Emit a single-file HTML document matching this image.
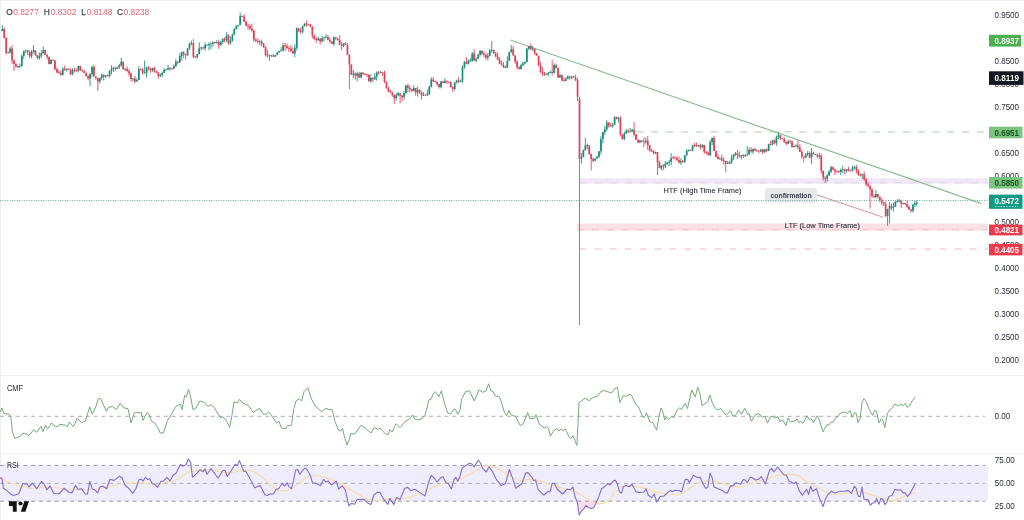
<!DOCTYPE html>
<html><head><meta charset="utf-8"><title>chart</title>
<style>html,body{margin:0;padding:0;background:#fff;width:1024px;height:520px;overflow:hidden;font-family:"Liberation Sans",sans-serif}</style>
</head><body>
<svg width="1024" height="520" viewBox="0 0 1024 520" style="position:absolute;left:0;top:0;display:block;will-change:transform" font-family="Liberation Sans, sans-serif">
<rect x="0" y="0" width="1024" height="520" fill="#ffffff"/>
<rect x="0" y="0" width="1024" height="1" fill="#eceef1"/>
<rect x="0" y="0" width="1" height="520" fill="#eceef1"/>
<rect x="0" y="375" width="1024" height="1" fill="#efeff2"/>
<rect x="0" y="453.3" width="1024" height="1" fill="#efeff2"/>
<rect x="579.5" y="178.2" width="408.5" height="5.6" fill="#f1e7f6"/>
<line x1="580" y1="182.7" x2="988" y2="182.7" stroke="#e0d4e9" stroke-width="1" stroke-dasharray="7 8"/>
<rect x="577" y="223.5" width="411" height="7.2" fill="#fbe1e4"/>
<line x1="577" y1="229.8" x2="988" y2="229.8" stroke="#f4bec4" stroke-width="1" stroke-dasharray="7 8"/>
<line x1="636.5" y1="131.9" x2="988" y2="131.9" stroke="#adcbae" stroke-width="1" stroke-dasharray="7 7.8"/>
<line x1="579.5" y1="249" x2="988" y2="249" stroke="#f4b9bf" stroke-width="1" stroke-dasharray="7 8"/>
<line x1="510.5" y1="40" x2="981.5" y2="203.6" stroke="#8cbd90" stroke-width="1.15"/>
<path d="M4.25 27.2V38.4M6.20 37.2V54.8M12.05 45.3V63.9M14.00 59.7V71.0M15.95 62.9V67.9M27.65 49.4V55.1M29.60 50.5V58.2M35.45 50.2V56.0M37.40 54.9V59.6M45.20 49.4V55.2M47.15 54.1V59.4M49.10 56.6V64.4M53.00 59.4V61.1M54.95 60.3V70.3M56.90 67.4V72.9M58.85 69.9V73.9M60.80 70.6V75.8M64.70 65.6V70.7M68.60 68.6V69.9M70.55 68.3V75.2M74.45 67.7V72.6M76.40 68.7V71.7M80.30 65.6V70.9M82.25 69.2V71.8M84.20 69.7V73.0M86.15 72.4V76.6M88.10 75.5V80.4M93.95 64.9V76.5M95.90 76.3V79.7M97.85 78.0V91.0M103.70 74.4V80.5M107.60 74.5V76.6M115.40 66.7V70.8M123.20 61.4V69.9M127.10 66.3V72.3M129.05 69.2V76.4M131.00 72.2V81.8M134.90 75.6V83.3M140.75 68.3V70.7M142.70 67.9V74.9M148.55 65.9V70.5M150.50 67.8V72.8M154.40 66.6V72.7M156.35 70.5V73.3M158.30 71.9V78.6M170.00 67.2V71.1M171.95 68.0V69.9M177.80 60.7V64.4M183.65 51.0V58.2M185.60 53.8V59.5M193.40 39.2V58.4M195.35 55.8V58.2M203.15 46.8V49.5M214.85 42.0V44.0M218.75 39.7V48.8M224.60 37.1V42.4M228.50 33.9V44.8M242.15 15.8V17.1M244.10 14.2V22.3M246.05 20.7V26.1M248.00 23.7V30.0M249.95 24.4V29.9M251.90 23.5V32.4M253.85 29.7V42.0M255.80 38.4V41.9M257.75 38.2V43.3M261.65 39.6V46.1M263.60 42.6V47.8M265.55 46.1V56.6M267.50 49.8V57.8M271.40 54.8V57.4M273.35 54.2V56.7M285.05 42.8V51.1M287.00 43.4V48.7M288.95 45.9V52.2M290.90 44.9V52.2M292.85 47.1V53.7M298.70 27.9V32.0M300.65 27.9V33.9M306.50 20.5V26.8M308.45 23.6V25.4M310.40 23.6V27.1M312.35 26.0V38.3M314.30 35.0V40.3M316.25 37.4V43.0M320.15 38.4V44.7M327.95 34.9V40.5M329.90 37.3V43.2M331.85 41.2V44.1M335.75 37.1V39.9M337.70 38.2V40.8M339.65 35.3V45.1M341.60 41.8V49.9M345.50 42.1V45.1M347.45 42.9V55.1M349.40 54.0V89.0M351.35 64.4V74.9M355.25 72.5V79.8M359.15 71.8V78.4M363.05 72.0V75.2M365.00 73.2V74.9M366.95 73.7V77.0M368.90 74.0V82.1M372.80 77.2V82.2M378.65 70.9V74.8M382.55 72.0V75.9M384.50 70.7V83.0M386.45 81.4V88.8M388.40 86.5V92.3M390.35 89.4V92.8M392.30 91.8V96.8M394.25 94.2V104.0M400.10 93.1V103.5M402.05 94.9V102.1M407.90 83.7V92.3M409.85 85.6V92.4M411.80 89.2V92.1M415.70 87.9V95.7M419.60 89.0V93.9M421.55 90.7V99.7M425.45 94.2V95.7M433.25 77.0V82.0M435.20 80.4V82.4M437.15 81.2V86.2M439.10 83.5V88.6M443.00 80.7V83.2M446.90 80.2V84.0M448.85 81.6V83.1M450.80 80.9V87.6M452.75 86.2V92.1M458.60 77.2V83.4M466.40 57.0V64.3M474.20 49.3V60.7M482.00 50.4V55.0M483.95 51.5V57.6M485.90 53.1V59.7M493.70 49.4V54.0M495.65 52.0V57.2M497.60 52.4V60.2M499.55 56.8V64.0M501.50 60.3V65.5M503.45 61.7V67.5M513.20 46.2V55.6M515.15 55.0V63.9M517.10 59.9V69.4M519.05 66.1V69.6M530.75 43.6V50.3M534.65 48.3V54.7M536.60 52.6V55.9M538.55 55.8V66.3M540.50 61.7V73.3M542.45 67.0V76.2M544.40 72.3V75.9M552.20 59.7V75.4M556.10 63.6V68.4M558.05 67.3V77.9M561.95 74.5V81.4M563.90 77.6V81.8M569.75 75.8V79.7M573.65 75.9V78.0M575.60 74.6V81.2M577.55 78.2V101.1M579.50 96.7V325.0M589.25 145.4V154.5M591.20 153.4V170.5M593.15 157.6V162.0M608.75 122.2V127.7M610.70 122.6V127.0M616.55 116.6V119.5M620.45 116.2V136.5M622.40 133.9V139.7M628.25 129.1V133.2M634.10 122.0V136.3M636.05 134.0V139.8M638.00 139.2V142.9M641.90 140.4V142.5M643.85 137.4V147.2M647.75 136.0V150.0M649.70 144.7V151.7M651.65 148.9V152.1M653.60 150.1V154.4M657.50 152.1V175.0M659.45 160.6V168.2M663.35 163.9V170.2M673.10 156.1V158.8M675.05 156.1V159.4M677.00 156.2V161.4M678.95 156.7V163.6M682.85 159.9V163.1M690.65 149.6V150.7M694.55 142.9V147.3M696.50 142.6V147.1M700.40 143.8V149.5M704.30 144.9V153.8M706.25 150.7V154.5M708.20 151.6V155.2M714.05 135.7V151.1M716.00 150.5V157.6M717.95 154.1V159.3M721.85 154.8V161.6M723.80 157.3V164.9M725.75 161.0V172.5M737.45 150.2V159.1M739.40 151.4V157.9M743.30 154.0V157.8M751.10 147.2V152.7M755.00 147.8V151.1M756.95 149.4V151.7M758.90 150.5V153.1M762.80 148.9V154.1M766.70 148.2V152.2M770.60 140.8V145.6M774.50 139.5V144.4M780.35 134.7V140.2M782.30 138.0V139.1M784.25 137.5V143.1M786.20 141.3V145.3M790.10 139.9V143.7M792.05 140.5V147.4M797.90 140.3V149.7M799.85 144.1V152.1M801.80 149.9V158.7M803.75 156.3V162.2M809.60 151.4V158.5M813.50 151.7V154.7M815.45 153.7V155.2M817.40 153.5V158.2M821.30 153.7V173.9M823.25 170.7V180.5M825.20 176.3V183.0M833.00 166.4V170.2M834.95 168.5V175.0M836.90 170.4V172.2M838.85 170.4V172.6M844.70 168.4V174.2M848.60 166.7V171.6M850.55 169.8V171.4M856.40 165.0V173.4M858.35 169.2V175.9M860.30 173.1V176.6M864.20 171.5V181.0M866.15 178.0V186.1M868.10 182.0V187.6M870.05 185.4V208.6M872.00 188.4V197.8M873.95 194.5V198.4M877.85 193.7V198.6M879.80 196.4V202.2M881.75 198.1V205.3M883.70 201.6V206.2M885.65 201.3V216.9M891.50 203.3V210.3M901.25 200.5V208.1M905.15 202.8V204.9M907.10 200.4V208.1M909.05 205.4V210.1M911.00 209.1V212.9" stroke="#e03e56" stroke-width="0.95" fill="none" opacity="0.9"/>
<path d="M2.30 25.0V31.3M8.15 51.5V53.5M10.10 46.9V53.5M17.90 65.5V68.4M19.85 63.5V68.1M21.80 54.4V66.6M23.75 50.5V58.8M25.70 49.7V53.1M31.55 50.0V58.3M33.50 45.1V53.6M39.35 52.5V59.8M41.30 50.2V58.1M43.25 46.6V53.9M51.05 59.6V64.3M62.75 67.2V75.7M66.65 68.7V71.4M72.50 68.2V75.2M78.35 65.6V72.4M90.05 73.2V86.0M92.00 65.5V76.7M99.80 77.6V83.6M101.75 73.3V79.9M105.65 75.1V78.1M109.55 70.5V77.7M111.50 65.2V74.5M113.45 66.7V72.1M117.35 66.8V69.1M119.30 63.8V69.0M121.25 57.6V66.7M125.15 68.5V70.8M132.95 78.3V81.4M136.85 78.1V81.9M138.80 66.5V80.1M144.65 60.6V73.5M146.60 67.0V77.8M152.45 67.6V71.7M160.25 73.4V77.3M162.20 71.9V77.3M164.15 67.9V73.2M166.10 69.2V70.6M168.05 64.9V70.1M173.90 64.5V69.0M175.85 58.9V67.3M179.75 53.2V62.8M181.70 51.5V60.6M187.55 48.1V56.0M189.50 42.6V49.9M191.45 40.6V45.3M197.30 53.8V58.7M199.25 42.4V54.6M201.20 46.5V50.4M205.10 42.3V50.7M207.05 44.4V45.7M209.00 42.4V50.3M210.95 42.2V49.2M212.90 41.2V46.8M216.80 40.2V43.6M220.70 40.8V45.9M222.65 38.3V43.9M226.55 32.2V42.1M230.45 36.4V44.5M232.40 33.6V41.9M234.35 28.2V35.3M236.30 25.4V29.7M238.25 24.8V27.4M240.20 12.5V25.2M259.70 40.2V45.4M269.45 54.6V60.6M275.30 54.9V56.7M277.25 52.2V55.2M279.20 50.9V52.9M281.15 47.1V51.7M283.10 43.1V51.6M294.80 44.4V57.1M296.75 27.2V50.4M302.60 25.4V33.7M304.55 23.3V26.3M318.20 36.6V41.0M322.10 36.0V42.3M324.05 37.1V41.2M326.00 34.1V38.2M333.80 36.4V46.0M343.55 43.0V47.3M353.30 69.8V78.0M357.20 71.6V81.3M361.10 72.1V78.2M370.85 74.2V83.4M374.75 73.4V80.2M376.70 71.3V80.6M380.60 70.9V73.5M396.20 92.9V100.6M398.15 91.7V96.4M404.00 91.3V99.8M405.95 85.3V94.4M413.75 85.4V91.5M417.65 86.7V96.5M423.50 92.2V96.0M427.40 89.7V96.2M429.35 85.7V95.0M431.30 77.3V87.3M441.05 81.3V88.4M444.95 78.2V83.1M454.70 82.3V90.7M456.65 79.8V83.6M460.55 79.6V82.1M462.50 65.3V83.2M464.45 60.8V68.8M468.35 59.3V64.6M470.30 58.1V62.1M472.25 51.9V61.6M476.15 57.8V62.3M478.10 53.6V58.8M480.05 50.3V56.5M487.85 52.8V60.7M489.80 48.9V56.2M491.75 41.0V52.6M505.40 65.6V68.3M507.35 56.3V68.1M509.30 51.8V61.0M511.25 45.0V52.5M521.00 63.9V69.5M522.95 61.6V65.9M524.90 61.5V64.7M526.85 47.9V62.4M528.80 45.9V50.0M532.70 45.8V51.1M546.35 73.3V75.1M548.30 72.3V76.6M550.25 70.5V73.3M554.15 63.4V73.6M560.00 73.8V78.0M565.85 77.1V81.0M567.80 75.4V79.3M571.70 76.2V79.4M581.45 152.9V163.6M583.40 149.4V157.3M585.35 138.0V150.5M587.30 143.5V149.3M595.10 158.4V161.2M597.05 156.0V158.8M599.00 151.1V158.0M600.95 136.0V154.5M602.90 131.9V143.3M604.85 126.1V134.9M606.80 120.1V131.0M612.65 123.0V127.5M614.60 116.4V124.9M618.50 116.9V122.7M624.35 131.7V140.0M626.30 129.1V133.8M630.20 128.0V132.5M632.15 128.9V131.8M639.95 139.8V142.6M645.80 137.3V143.9M655.55 151.7V154.2M661.40 165.3V170.5M665.30 160.8V168.3M667.25 161.5V165.1M669.20 160.0V166.1M671.15 153.2V165.4M680.90 158.3V165.1M684.80 155.0V163.1M686.75 149.0V155.9M688.70 149.4V151.5M692.60 144.8V151.3M698.45 145.0V147.0M702.35 143.9V148.0M710.15 140.0V155.8M712.10 137.3V145.3M719.90 157.3V159.9M727.70 161.0V164.1M729.65 160.7V163.9M731.60 154.8V164.0M733.55 154.2V160.1M735.50 152.0V155.9M741.35 155.1V159.5M745.25 154.3V157.1M747.20 146.0V156.3M749.15 147.6V154.9M753.05 148.6V153.9M760.85 149.3V151.8M764.75 149.2V152.9M768.65 143.7V151.2M772.55 140.0V145.3M776.45 135.7V145.7M778.40 131.9V139.5M788.15 139.5V144.1M794.00 145.7V147.7M795.95 144.3V146.5M805.70 153.2V158.3M807.65 151.0V156.2M811.55 148.0V164.0M819.35 152.8V159.2M827.15 173.8V181.5M829.10 169.8V175.8M831.05 165.8V173.0M840.80 168.6V175.1M842.75 165.3V173.0M846.65 169.1V172.9M852.50 165.7V171.5M854.45 165.5V169.4M862.25 173.6V179.0M875.90 190.1V198.2M887.60 208.7V225.8M889.55 202.2V223.4M893.45 202.7V211.6M895.40 201.3V207.0M897.35 199.3V202.3M899.30 199.1V201.8M903.20 202.7V204.4M912.95 203.8V212.6M914.90 200.7V207.2M916.85 200.2V206.3" stroke="#168d78" stroke-width="0.95" fill="none" opacity="0.9"/>
<path d="M3.40 29.0h1.7V38.0h-1.7ZM5.35 38.0h1.7V52.8h-1.7ZM11.20 48.6h1.7V60.6h-1.7ZM13.15 60.6h1.7V63.9h-1.7ZM15.10 63.9h1.7V66.6h-1.7ZM26.80 50.4h1.7V51.8h-1.7ZM28.75 51.8h1.7V56.2h-1.7ZM34.60 50.2h1.7V54.9h-1.7ZM36.55 54.9h1.7V58.0h-1.7ZM44.35 50.1h1.7V54.9h-1.7ZM46.30 54.9h1.7V56.8h-1.7ZM48.25 56.8h1.7V64.0h-1.7ZM52.15 59.7h1.7V60.6h-1.7ZM54.10 60.5h1.7V69.3h-1.7ZM56.05 69.3h1.7V72.4h-1.7ZM58.00 72.2h1.7V73.1h-1.7ZM59.95 72.9h1.7V74.8h-1.7ZM63.85 68.8h1.7V70.0h-1.7ZM67.75 68.8h1.7V69.9h-1.7ZM69.70 69.9h1.7V74.3h-1.7ZM73.60 69.8h1.7V70.7h-1.7ZM75.55 70.0h1.7V70.9h-1.7ZM79.45 66.1h1.7V70.4h-1.7ZM81.40 70.4h1.7V71.3h-1.7ZM83.35 71.2h1.7V73.0h-1.7ZM85.30 73.0h1.7V75.9h-1.7ZM87.25 75.9h1.7V78.6h-1.7ZM93.10 67.0h1.7V76.4h-1.7ZM95.05 76.4h1.7V78.3h-1.7ZM97.00 78.3h1.7V81.4h-1.7ZM102.85 74.7h1.7V76.7h-1.7ZM106.75 75.3h1.7V76.2h-1.7ZM114.55 68.1h1.7V69.1h-1.7ZM122.35 61.8h1.7V69.0h-1.7ZM126.25 69.1h1.7V71.1h-1.7ZM128.20 71.1h1.7V73.6h-1.7ZM130.15 73.6h1.7V79.0h-1.7ZM134.05 78.6h1.7V81.6h-1.7ZM139.90 69.1h1.7V70.0h-1.7ZM141.85 69.8h1.7V72.7h-1.7ZM147.70 67.3h1.7V68.6h-1.7ZM149.65 68.6h1.7V70.3h-1.7ZM153.55 67.9h1.7V71.4h-1.7ZM155.50 71.4h1.7V72.8h-1.7ZM157.45 72.8h1.7V76.1h-1.7ZM169.15 67.8h1.7V68.7h-1.7ZM171.10 68.2h1.7V69.1h-1.7ZM176.95 61.8h1.7V62.7h-1.7ZM182.80 52.2h1.7V54.5h-1.7ZM184.75 54.3h1.7V55.2h-1.7ZM192.55 43.1h1.7V56.7h-1.7ZM194.50 56.4h1.7V57.3h-1.7ZM202.30 47.5h1.7V48.4h-1.7ZM214.00 42.1h1.7V43.0h-1.7ZM217.90 42.2h1.7V45.3h-1.7ZM223.75 39.1h1.7V40.2h-1.7ZM227.65 35.5h1.7V43.1h-1.7ZM241.30 15.8h1.7V16.7h-1.7ZM243.25 16.6h1.7V21.5h-1.7ZM245.20 21.5h1.7V25.8h-1.7ZM247.15 25.5h1.7V26.4h-1.7ZM249.10 26.1h1.7V28.5h-1.7ZM251.05 28.5h1.7V30.4h-1.7ZM253.00 30.4h1.7V39.4h-1.7ZM254.95 39.4h1.7V41.0h-1.7ZM256.90 41.0h1.7V42.0h-1.7ZM260.80 41.5h1.7V44.0h-1.7ZM262.75 44.0h1.7V47.2h-1.7ZM264.70 47.2h1.7V54.9h-1.7ZM266.65 54.6h1.7V55.5h-1.7ZM270.55 54.9h1.7V55.8h-1.7ZM272.50 55.5h1.7V56.7h-1.7ZM284.20 45.3h1.7V46.2h-1.7ZM286.15 45.9h1.7V48.3h-1.7ZM288.10 47.9h1.7V48.8h-1.7ZM290.05 48.4h1.7V50.7h-1.7ZM292.00 50.7h1.7V53.6h-1.7ZM297.85 28.4h1.7V30.8h-1.7ZM299.80 30.8h1.7V31.7h-1.7ZM305.65 23.5h1.7V24.4h-1.7ZM307.60 23.9h1.7V24.8h-1.7ZM309.55 24.4h1.7V26.8h-1.7ZM311.50 26.8h1.7V35.3h-1.7ZM313.45 35.3h1.7V38.7h-1.7ZM315.40 38.7h1.7V40.0h-1.7ZM319.30 38.4h1.7V41.6h-1.7ZM327.10 37.0h1.7V40.0h-1.7ZM329.05 40.0h1.7V41.5h-1.7ZM331.00 41.5h1.7V44.0h-1.7ZM334.90 37.3h1.7V38.6h-1.7ZM336.85 38.6h1.7V39.9h-1.7ZM338.80 39.9h1.7V44.4h-1.7ZM340.75 44.4h1.7V46.0h-1.7ZM344.65 43.4h1.7V45.0h-1.7ZM346.60 45.0h1.7V55.0h-1.7ZM348.55 55.0h1.7V64.4h-1.7ZM350.50 64.4h1.7V74.8h-1.7ZM354.40 73.4h1.7V75.8h-1.7ZM358.30 73.4h1.7V77.4h-1.7ZM362.20 72.8h1.7V73.9h-1.7ZM364.15 73.8h1.7V74.7h-1.7ZM366.10 74.4h1.7V75.3h-1.7ZM368.05 75.1h1.7V81.1h-1.7ZM371.95 78.1h1.7V79.3h-1.7ZM377.80 72.4h1.7V73.3h-1.7ZM381.70 72.2h1.7V73.1h-1.7ZM383.65 73.0h1.7V82.1h-1.7ZM385.60 82.1h1.7V87.7h-1.7ZM387.55 87.7h1.7V91.5h-1.7ZM389.50 91.5h1.7V92.8h-1.7ZM391.45 92.8h1.7V95.3h-1.7ZM393.40 95.3h1.7V98.2h-1.7ZM399.25 93.3h1.7V95.7h-1.7ZM401.20 95.7h1.7V97.2h-1.7ZM407.05 85.6h1.7V87.8h-1.7ZM409.00 87.8h1.7V89.3h-1.7ZM410.95 89.3h1.7V91.1h-1.7ZM414.85 87.9h1.7V92.5h-1.7ZM418.75 89.9h1.7V92.6h-1.7ZM420.70 92.6h1.7V95.6h-1.7ZM424.60 94.7h1.7V95.6h-1.7ZM432.40 79.5h1.7V81.6h-1.7ZM434.35 81.3h1.7V82.2h-1.7ZM436.30 81.9h1.7V84.2h-1.7ZM438.25 84.2h1.7V87.0h-1.7ZM442.15 81.4h1.7V83.1h-1.7ZM446.05 80.9h1.7V81.8h-1.7ZM448.00 81.7h1.7V82.6h-1.7ZM449.95 82.6h1.7V87.1h-1.7ZM451.90 87.1h1.7V89.1h-1.7ZM457.75 80.4h1.7V82.1h-1.7ZM465.55 62.0h1.7V63.9h-1.7ZM473.35 53.4h1.7V60.7h-1.7ZM481.15 50.7h1.7V53.7h-1.7ZM483.10 53.7h1.7V54.9h-1.7ZM485.05 54.9h1.7V57.7h-1.7ZM492.85 50.0h1.7V53.3h-1.7ZM494.80 53.3h1.7V56.5h-1.7ZM496.75 56.5h1.7V59.4h-1.7ZM498.70 59.4h1.7V63.4h-1.7ZM500.65 63.4h1.7V64.9h-1.7ZM502.60 64.9h1.7V67.5h-1.7ZM512.35 49.3h1.7V55.4h-1.7ZM514.30 55.4h1.7V61.4h-1.7ZM516.25 61.4h1.7V67.2h-1.7ZM518.20 67.2h1.7V69.0h-1.7ZM529.90 45.9h1.7V49.0h-1.7ZM533.80 49.1h1.7V53.4h-1.7ZM535.75 53.4h1.7V55.8h-1.7ZM537.70 55.8h1.7V64.9h-1.7ZM539.65 64.9h1.7V71.9h-1.7ZM541.60 71.7h1.7V72.6h-1.7ZM543.55 72.4h1.7V74.9h-1.7ZM551.35 72.0h1.7V72.9h-1.7ZM555.25 65.1h1.7V68.2h-1.7ZM557.20 68.2h1.7V77.6h-1.7ZM561.10 75.3h1.7V80.4h-1.7ZM563.05 80.2h1.7V81.1h-1.7ZM568.90 76.5h1.7V77.4h-1.7ZM572.80 76.4h1.7V77.3h-1.7ZM574.75 77.2h1.7V79.9h-1.7ZM576.70 79.9h1.7V96.7h-1.7ZM578.65 99.0h1.7V158.8h-1.7ZM588.40 145.6h1.7V154.2h-1.7ZM590.35 154.2h1.7V158.9h-1.7ZM592.30 158.9h1.7V160.7h-1.7ZM607.90 122.5h1.7V125.8h-1.7ZM609.85 125.5h1.7V126.4h-1.7ZM615.70 117.0h1.7V119.1h-1.7ZM619.60 118.1h1.7V134.8h-1.7ZM621.55 134.8h1.7V139.0h-1.7ZM627.40 130.8h1.7V131.7h-1.7ZM633.25 129.8h1.7V134.5h-1.7ZM635.20 134.5h1.7V139.8h-1.7ZM637.15 139.8h1.7V142.6h-1.7ZM641.05 140.4h1.7V141.5h-1.7ZM643.00 141.4h1.7V142.3h-1.7ZM646.90 140.8h1.7V145.3h-1.7ZM648.85 145.3h1.7V150.6h-1.7ZM650.80 150.5h1.7V151.4h-1.7ZM652.75 151.3h1.7V153.2h-1.7ZM656.65 152.1h1.7V162.2h-1.7ZM658.60 162.2h1.7V168.2h-1.7ZM662.50 165.6h1.7V166.6h-1.7ZM672.25 157.5h1.7V158.4h-1.7ZM674.20 157.6h1.7V158.5h-1.7ZM676.15 158.3h1.7V160.0h-1.7ZM678.10 160.0h1.7V162.6h-1.7ZM682.00 160.8h1.7V161.7h-1.7ZM689.80 149.8h1.7V150.7h-1.7ZM693.70 145.1h1.7V146.0h-1.7ZM695.65 145.2h1.7V146.1h-1.7ZM699.55 145.3h1.7V147.2h-1.7ZM703.45 145.1h1.7V152.1h-1.7ZM705.40 152.0h1.7V152.9h-1.7ZM707.35 152.8h1.7V155.2h-1.7ZM713.20 138.1h1.7V150.9h-1.7ZM715.15 150.9h1.7V156.8h-1.7ZM717.10 156.8h1.7V159.1h-1.7ZM721.00 158.6h1.7V160.4h-1.7ZM722.95 160.3h1.7V161.2h-1.7ZM724.90 161.1h1.7V163.6h-1.7ZM736.60 153.3h1.7V155.3h-1.7ZM738.55 155.3h1.7V156.4h-1.7ZM742.45 155.1h1.7V156.0h-1.7ZM750.25 149.7h1.7V151.4h-1.7ZM754.15 149.0h1.7V150.6h-1.7ZM756.10 150.3h1.7V151.2h-1.7ZM758.05 150.7h1.7V151.6h-1.7ZM761.95 149.6h1.7V152.2h-1.7ZM765.85 149.2h1.7V150.7h-1.7ZM769.75 143.9h1.7V144.8h-1.7ZM773.65 140.3h1.7V143.3h-1.7ZM779.50 135.2h1.7V138.6h-1.7ZM781.45 138.2h1.7V139.1h-1.7ZM783.40 138.6h1.7V141.9h-1.7ZM785.35 141.9h1.7V143.7h-1.7ZM789.25 141.2h1.7V142.1h-1.7ZM791.20 141.8h1.7V147.0h-1.7ZM797.05 145.6h1.7V147.5h-1.7ZM799.00 147.5h1.7V151.9h-1.7ZM800.95 151.9h1.7V156.6h-1.7ZM802.90 156.6h1.7V157.6h-1.7ZM808.75 153.1h1.7V157.4h-1.7ZM812.65 152.8h1.7V154.1h-1.7ZM814.60 154.0h1.7V154.9h-1.7ZM816.55 154.9h1.7V156.4h-1.7ZM820.45 155.8h1.7V170.7h-1.7ZM822.40 170.7h1.7V177.7h-1.7ZM824.35 177.7h1.7V178.8h-1.7ZM832.15 167.3h1.7V169.6h-1.7ZM834.10 169.6h1.7V171.5h-1.7ZM836.05 171.3h1.7V172.2h-1.7ZM838.00 171.6h1.7V172.5h-1.7ZM843.85 169.6h1.7V170.9h-1.7ZM847.75 169.3h1.7V170.5h-1.7ZM849.70 170.2h1.7V171.1h-1.7ZM855.55 167.0h1.7V170.8h-1.7ZM857.50 170.8h1.7V174.8h-1.7ZM859.45 174.5h1.7V175.4h-1.7ZM863.35 174.4h1.7V179.3h-1.7ZM865.30 179.3h1.7V184.5h-1.7ZM867.25 184.5h1.7V186.0h-1.7ZM869.20 186.0h1.7V189.5h-1.7ZM871.15 189.5h1.7V195.9h-1.7ZM873.10 195.9h1.7V197.0h-1.7ZM877.00 194.0h1.7V196.7h-1.7ZM878.95 196.7h1.7V199.9h-1.7ZM880.90 199.9h1.7V202.5h-1.7ZM882.85 202.5h1.7V204.2h-1.7ZM884.80 204.2h1.7V216.1h-1.7ZM890.65 206.1h1.7V207.8h-1.7ZM900.40 200.8h1.7V203.6h-1.7ZM904.30 203.0h1.7V203.9h-1.7ZM906.25 203.9h1.7V206.7h-1.7ZM908.20 206.7h1.7V209.5h-1.7ZM910.15 209.5h1.7V210.7h-1.7Z" fill="#e03e56"/>
<path d="M1.45 29.0h1.7V30.9h-1.7ZM7.30 52.2h1.7V53.1h-1.7ZM9.25 48.6h1.7V52.5h-1.7ZM17.05 66.2h1.7V67.1h-1.7ZM19.00 65.9h1.7V66.8h-1.7ZM20.95 56.1h1.7V66.0h-1.7ZM22.90 51.3h1.7V56.1h-1.7ZM24.85 50.4h1.7V51.3h-1.7ZM30.70 52.2h1.7V56.2h-1.7ZM32.65 50.2h1.7V52.2h-1.7ZM38.50 56.0h1.7V58.0h-1.7ZM40.45 52.9h1.7V56.0h-1.7ZM42.40 50.1h1.7V52.9h-1.7ZM50.20 59.8h1.7V64.0h-1.7ZM61.90 68.8h1.7V74.8h-1.7ZM65.80 68.8h1.7V70.0h-1.7ZM71.65 70.1h1.7V74.3h-1.7ZM77.50 66.1h1.7V70.6h-1.7ZM89.20 74.1h1.7V78.6h-1.7ZM91.15 67.0h1.7V74.1h-1.7ZM98.95 78.0h1.7V81.4h-1.7ZM100.90 74.7h1.7V78.0h-1.7ZM104.80 75.6h1.7V76.7h-1.7ZM108.70 70.8h1.7V76.0h-1.7ZM110.65 68.6h1.7V70.8h-1.7ZM112.60 67.9h1.7V68.8h-1.7ZM116.50 67.3h1.7V69.1h-1.7ZM118.45 65.3h1.7V67.3h-1.7ZM120.40 61.8h1.7V65.3h-1.7ZM124.30 68.6h1.7V69.5h-1.7ZM132.10 78.3h1.7V79.2h-1.7ZM136.00 80.0h1.7V81.6h-1.7ZM137.95 69.2h1.7V80.0h-1.7ZM143.80 72.3h1.7V73.2h-1.7ZM145.75 67.3h1.7V72.8h-1.7ZM151.60 67.9h1.7V70.3h-1.7ZM159.40 75.0h1.7V76.1h-1.7ZM161.35 73.0h1.7V75.0h-1.7ZM163.30 70.0h1.7V73.0h-1.7ZM165.25 69.3h1.7V70.2h-1.7ZM167.20 67.9h1.7V69.6h-1.7ZM173.05 66.1h1.7V68.7h-1.7ZM175.00 61.8h1.7V66.1h-1.7ZM178.90 56.1h1.7V62.6h-1.7ZM180.85 52.2h1.7V56.1h-1.7ZM186.70 48.6h1.7V55.1h-1.7ZM188.65 44.0h1.7V48.6h-1.7ZM190.60 43.1h1.7V44.0h-1.7ZM196.45 54.1h1.7V56.9h-1.7ZM198.40 48.2h1.7V54.1h-1.7ZM200.35 47.4h1.7V48.3h-1.7ZM204.25 45.1h1.7V48.3h-1.7ZM206.20 44.7h1.7V45.6h-1.7ZM208.15 44.0h1.7V45.2h-1.7ZM210.10 43.4h1.7V44.3h-1.7ZM212.05 42.2h1.7V43.6h-1.7ZM215.95 42.1h1.7V43.0h-1.7ZM219.85 42.1h1.7V45.3h-1.7ZM221.80 39.1h1.7V42.1h-1.7ZM225.70 35.5h1.7V40.2h-1.7ZM229.60 40.5h1.7V43.1h-1.7ZM231.55 34.6h1.7V40.5h-1.7ZM233.50 29.1h1.7V34.6h-1.7ZM235.45 25.8h1.7V29.1h-1.7ZM237.40 24.9h1.7V25.8h-1.7ZM239.35 16.0h1.7V25.0h-1.7ZM258.85 41.3h1.7V42.2h-1.7ZM268.60 54.7h1.7V55.6h-1.7ZM274.45 54.9h1.7V56.7h-1.7ZM276.40 52.6h1.7V54.9h-1.7ZM278.35 51.1h1.7V52.6h-1.7ZM280.30 50.2h1.7V51.1h-1.7ZM282.25 45.6h1.7V50.2h-1.7ZM293.95 47.8h1.7V53.6h-1.7ZM295.90 28.4h1.7V47.8h-1.7ZM301.75 26.3h1.7V31.7h-1.7ZM303.70 23.5h1.7V26.3h-1.7ZM317.35 38.4h1.7V40.0h-1.7ZM321.25 38.3h1.7V41.6h-1.7ZM323.20 37.4h1.7V38.3h-1.7ZM325.15 36.8h1.7V37.7h-1.7ZM332.95 37.3h1.7V44.0h-1.7ZM342.70 43.4h1.7V46.0h-1.7ZM352.45 73.4h1.7V74.8h-1.7ZM356.35 73.4h1.7V75.8h-1.7ZM360.25 72.8h1.7V77.4h-1.7ZM370.00 78.1h1.7V81.1h-1.7ZM373.90 76.5h1.7V79.3h-1.7ZM375.85 72.5h1.7V76.5h-1.7ZM379.75 72.2h1.7V73.1h-1.7ZM395.35 95.3h1.7V98.2h-1.7ZM397.30 93.3h1.7V95.3h-1.7ZM403.15 92.9h1.7V97.2h-1.7ZM405.10 85.6h1.7V92.9h-1.7ZM412.90 87.9h1.7V91.1h-1.7ZM416.80 89.9h1.7V92.5h-1.7ZM422.65 94.9h1.7V95.8h-1.7ZM426.55 94.0h1.7V95.2h-1.7ZM428.50 86.7h1.7V94.0h-1.7ZM430.45 79.5h1.7V86.7h-1.7ZM440.20 81.4h1.7V87.0h-1.7ZM444.10 81.1h1.7V83.1h-1.7ZM453.85 82.3h1.7V89.1h-1.7ZM455.80 80.4h1.7V82.3h-1.7ZM459.70 80.8h1.7V82.1h-1.7ZM461.65 67.3h1.7V80.8h-1.7ZM463.60 62.0h1.7V67.3h-1.7ZM467.50 61.0h1.7V63.9h-1.7ZM469.45 60.5h1.7V61.4h-1.7ZM471.40 53.4h1.7V60.9h-1.7ZM475.30 58.7h1.7V60.7h-1.7ZM477.25 54.8h1.7V58.7h-1.7ZM479.20 50.7h1.7V54.8h-1.7ZM487.00 55.8h1.7V57.7h-1.7ZM488.95 50.6h1.7V55.8h-1.7ZM490.90 49.9h1.7V50.8h-1.7ZM504.55 67.0h1.7V67.9h-1.7ZM506.50 61.0h1.7V67.4h-1.7ZM508.45 52.3h1.7V61.0h-1.7ZM510.40 49.3h1.7V52.3h-1.7ZM520.15 65.3h1.7V69.0h-1.7ZM522.10 63.2h1.7V65.3h-1.7ZM524.05 62.0h1.7V63.2h-1.7ZM526.00 48.7h1.7V62.0h-1.7ZM527.95 45.9h1.7V48.7h-1.7ZM531.85 48.6h1.7V49.5h-1.7ZM545.50 74.2h1.7V75.1h-1.7ZM547.45 72.8h1.7V74.3h-1.7ZM549.40 72.0h1.7V72.9h-1.7ZM553.30 65.1h1.7V72.8h-1.7ZM559.15 75.3h1.7V77.6h-1.7ZM565.00 78.8h1.7V80.9h-1.7ZM566.95 76.5h1.7V78.8h-1.7ZM570.85 76.6h1.7V77.5h-1.7ZM580.60 157.1h1.7V158.8h-1.7ZM582.55 150.3h1.7V157.1h-1.7ZM584.50 145.5h1.7V150.3h-1.7ZM586.45 145.1h1.7V146.0h-1.7ZM594.25 158.4h1.7V160.7h-1.7ZM596.20 156.8h1.7V158.4h-1.7ZM598.15 151.3h1.7V156.8h-1.7ZM600.10 139.2h1.7V151.3h-1.7ZM602.05 132.2h1.7V139.2h-1.7ZM604.00 129.2h1.7V132.2h-1.7ZM605.95 122.5h1.7V129.2h-1.7ZM611.80 124.8h1.7V126.2h-1.7ZM613.75 117.0h1.7V124.8h-1.7ZM617.65 118.1h1.7V119.1h-1.7ZM623.50 133.4h1.7V139.0h-1.7ZM625.45 130.8h1.7V133.4h-1.7ZM629.35 131.2h1.7V132.1h-1.7ZM631.30 129.8h1.7V131.6h-1.7ZM639.10 140.4h1.7V142.6h-1.7ZM644.95 140.8h1.7V142.1h-1.7ZM654.70 152.1h1.7V153.2h-1.7ZM660.55 165.6h1.7V168.2h-1.7ZM664.45 163.7h1.7V166.6h-1.7ZM666.40 162.6h1.7V163.7h-1.7ZM668.35 161.8h1.7V162.7h-1.7ZM670.30 158.0h1.7V161.8h-1.7ZM680.05 161.0h1.7V162.6h-1.7ZM683.95 155.0h1.7V161.5h-1.7ZM685.90 151.1h1.7V155.0h-1.7ZM687.85 150.0h1.7V151.1h-1.7ZM691.75 145.5h1.7V150.4h-1.7ZM697.60 145.0h1.7V145.9h-1.7ZM701.50 145.1h1.7V147.2h-1.7ZM709.30 142.2h1.7V155.2h-1.7ZM711.25 138.1h1.7V142.2h-1.7ZM719.05 158.4h1.7V159.3h-1.7ZM726.85 163.1h1.7V164.0h-1.7ZM728.80 162.3h1.7V163.5h-1.7ZM730.75 157.7h1.7V162.3h-1.7ZM732.70 154.4h1.7V157.7h-1.7ZM734.65 153.3h1.7V154.4h-1.7ZM740.50 155.4h1.7V156.4h-1.7ZM744.40 155.0h1.7V155.9h-1.7ZM746.35 154.4h1.7V155.3h-1.7ZM748.30 149.7h1.7V154.6h-1.7ZM752.20 149.0h1.7V151.4h-1.7ZM760.00 149.6h1.7V151.4h-1.7ZM763.90 149.2h1.7V152.2h-1.7ZM767.80 144.2h1.7V150.7h-1.7ZM771.70 140.3h1.7V144.4h-1.7ZM775.60 136.9h1.7V143.3h-1.7ZM777.55 135.2h1.7V136.9h-1.7ZM787.30 141.4h1.7V143.7h-1.7ZM793.15 146.3h1.7V147.2h-1.7ZM795.10 145.6h1.7V146.5h-1.7ZM804.85 154.5h1.7V157.6h-1.7ZM806.80 153.1h1.7V154.5h-1.7ZM810.70 152.8h1.7V157.4h-1.7ZM818.50 155.6h1.7V156.5h-1.7ZM826.30 175.4h1.7V178.8h-1.7ZM828.25 171.5h1.7V175.4h-1.7ZM830.20 167.3h1.7V171.5h-1.7ZM839.95 169.7h1.7V172.1h-1.7ZM841.90 169.2h1.7V170.1h-1.7ZM845.80 169.3h1.7V170.9h-1.7ZM851.65 167.7h1.7V170.8h-1.7ZM853.60 166.9h1.7V167.8h-1.7ZM861.40 174.3h1.7V175.2h-1.7ZM875.05 194.0h1.7V197.0h-1.7ZM886.75 208.9h1.7V216.1h-1.7ZM888.70 206.1h1.7V208.9h-1.7ZM892.60 206.7h1.7V207.8h-1.7ZM894.55 201.8h1.7V206.7h-1.7ZM896.50 201.3h1.7V202.2h-1.7ZM898.45 200.8h1.7V201.7h-1.7ZM902.35 202.9h1.7V203.8h-1.7ZM912.10 204.7h1.7V210.7h-1.7ZM914.05 203.0h1.7V204.7h-1.7ZM916.00 202.5h1.7V203.4h-1.7Z" fill="#168d78"/>
<line x1="816.7" y1="194.8" x2="883" y2="217.2" stroke="#d27b85" stroke-width="0.85"/>
<rect x="765" y="188" width="52" height="14.4" rx="2.5" fill="#e7e8ea"/>
<text x="770.6" y="197.8" font-size="7.6" font-weight="700" fill="#3a3e4a" textLength="41" lengthAdjust="spacingAndGlyphs">confirmation</text>
<text x="663.5" y="192.8" font-size="8" fill="#2a2e39" stroke="#2a2e39" stroke-width="0.1" textLength="78" lengthAdjust="spacingAndGlyphs">HTF (High Time Frame)</text>
<text x="784.8" y="227.9" font-size="8" fill="#2a2e39" stroke="#2a2e39" stroke-width="0.1" textLength="75.2" lengthAdjust="spacingAndGlyphs">LTF (Low Time Frame)</text>
<line x1="0" y1="200.5" x2="988" y2="200.5" stroke="#5c9f94" stroke-width="0.9" stroke-dasharray="1 1.4"/>
<text x="6.2" y="15" font-size="8.4" fill="#474a54" stroke="#474a54" stroke-width="0.25">O</text>
<text x="13.2" y="15" font-size="8.4" fill="#dd6577">0.8277</text>
<text x="43.8" y="15" font-size="8.4" fill="#474a54" stroke="#474a54" stroke-width="0.25">H</text>
<text x="50.699999999999996" y="15" font-size="8.4" fill="#dd6577">0.8302</text>
<text x="81.2" y="15" font-size="8.4" fill="#474a54" stroke="#474a54" stroke-width="0.25">L</text>
<text x="86.7" y="15" font-size="8.4" fill="#dd6577">0.8148</text>
<text x="117.0" y="15" font-size="8.4" fill="#474a54" stroke="#474a54" stroke-width="0.25">C</text>
<text x="123.6" y="15" font-size="8.4" fill="#dd6577">0.8238</text>
<text x="994.5" y="18.1" font-size="9.9" fill="#2a2e39" textLength="24.5" lengthAdjust="spacingAndGlyphs">0.9500</text>
<text x="994.5" y="41.1" font-size="9.9" fill="#2a2e39" textLength="24.5" lengthAdjust="spacingAndGlyphs">0.9000</text>
<text x="994.5" y="64.1" font-size="9.9" fill="#2a2e39" textLength="24.5" lengthAdjust="spacingAndGlyphs">0.8500</text>
<text x="994.5" y="87.1" font-size="9.9" fill="#2a2e39" textLength="24.5" lengthAdjust="spacingAndGlyphs">0.8000</text>
<text x="994.5" y="110.1" font-size="9.9" fill="#2a2e39" textLength="24.5" lengthAdjust="spacingAndGlyphs">0.7500</text>
<text x="994.5" y="133.1" font-size="9.9" fill="#2a2e39" textLength="24.5" lengthAdjust="spacingAndGlyphs">0.7000</text>
<text x="994.5" y="156.1" font-size="9.9" fill="#2a2e39" textLength="24.5" lengthAdjust="spacingAndGlyphs">0.6500</text>
<text x="994.5" y="179.1" font-size="9.9" fill="#2a2e39" textLength="24.5" lengthAdjust="spacingAndGlyphs">0.6000</text>
<text x="994.5" y="202.1" font-size="9.9" fill="#2a2e39" textLength="24.5" lengthAdjust="spacingAndGlyphs">0.5500</text>
<text x="994.5" y="225.1" font-size="9.9" fill="#2a2e39" textLength="24.5" lengthAdjust="spacingAndGlyphs">0.5000</text>
<text x="994.5" y="248.1" font-size="9.9" fill="#2a2e39" textLength="24.5" lengthAdjust="spacingAndGlyphs">0.4500</text>
<text x="994.5" y="271.1" font-size="9.9" fill="#2a2e39" textLength="24.5" lengthAdjust="spacingAndGlyphs">0.4000</text>
<text x="994.5" y="294.1" font-size="9.9" fill="#2a2e39" textLength="24.5" lengthAdjust="spacingAndGlyphs">0.3500</text>
<text x="994.5" y="317.1" font-size="9.9" fill="#2a2e39" textLength="24.5" lengthAdjust="spacingAndGlyphs">0.3000</text>
<text x="994.5" y="340.1" font-size="9.9" fill="#2a2e39" textLength="24.5" lengthAdjust="spacingAndGlyphs">0.2500</text>
<text x="994.5" y="363.1" font-size="9.9" fill="#2a2e39" textLength="24.5" lengthAdjust="spacingAndGlyphs">0.2000</text>
<rect x="989" y="34.8" width="32" height="11.8" fill="#4caf50"/>
<text x="994.5" y="44.0" font-size="9.9" font-weight="700" fill="#f2fbf2" textLength="24.5" lengthAdjust="spacingAndGlyphs">0.8937</text>
<rect x="989" y="71.3" width="34.5" height="13.6" fill="#131722"/>
<text x="994.5" y="81.4" font-size="9.9" font-weight="700" fill="#ffffff" textLength="24.5" lengthAdjust="spacingAndGlyphs">0.8119</text>
<rect x="989" y="126.7" width="33.5" height="11.6" fill="#7dc481"/>
<text x="994.5" y="135.8" font-size="9.9" font-weight="700" fill="#15561f" textLength="24.5" lengthAdjust="spacingAndGlyphs">0.6951</text>
<rect x="989" y="177.0" width="33.5" height="11.6" fill="#7dc481"/>
<text x="994.5" y="186.1" font-size="9.9" font-weight="700" fill="#15561f" textLength="24.5" lengthAdjust="spacingAndGlyphs">0.5850</text>
<rect x="989" y="194.6" width="33.5" height="14.2" fill="#109a83"/>
<text x="994.5" y="203.7" font-size="9.9" font-weight="700" fill="#ffffff" textLength="24.5" lengthAdjust="spacingAndGlyphs">0.5472</text>
<rect x="989" y="224.6" width="33.5" height="10.8" fill="#ee3b4c"/>
<text x="994.5" y="233.3" font-size="9.9" font-weight="700" fill="#ffffff" textLength="24.5" lengthAdjust="spacingAndGlyphs">0.4821</text>
<rect x="989" y="243.8" width="33.5" height="11.6" fill="#ee3b4c"/>
<text x="994.5" y="252.9" font-size="9.9" font-weight="700" fill="#ffffff" textLength="24.5" lengthAdjust="spacingAndGlyphs">0.4405</text>
<line x1="995" y1="206.6" x2="1018" y2="206.6" stroke="#bfe6dd" stroke-width="0.8" stroke-dasharray="1.6 1.2"/>
<text x="6.9" y="390.8" font-size="9.6" fill="#2a2e39" textLength="16.3" lengthAdjust="spacingAndGlyphs">CMF</text>
<line x1="0" y1="416.3" x2="985" y2="416.3" stroke="#96979d" stroke-width="0.8" stroke-dasharray="4 3.8"/>
<polyline fill="none" stroke="#76a97a" stroke-width="1" stroke-linejoin="round" points="0.0,412.0 1.9,408.0 3.9,413.5 9.4,414.3 11.0,418.2 12.5,432.3 14.8,438.5 20.3,436.2 22.7,433.0 25.8,433.8 28.9,435.4 33.6,429.9 36.7,432.3 41.0,426.3 43.0,431.5 45.6,425.2 47.7,429.0 51.6,422.9 53.9,425.7 57.0,426.8 60.0,424.4 65.6,425.2 67.2,426.8 69.5,422.0 73.4,426.8 77.3,418.2 81.3,422.6 85.2,421.3 89.8,406.8 92.2,414.3 95.3,408.0 98.4,398.7 100.8,398.7 106.3,411.2 108.6,407.3 112.5,406.5 116.4,409.6 120.3,403.3 124.2,408.0 128.0,408.8 131.0,422.9 134.4,412.7 141.4,412.7 143.0,420.5 146.9,412.7 149.2,415.0 151.6,421.3 154.7,422.9 157.8,427.6 160.2,433.0 163.3,433.0 167.2,421.3 171.0,415.0 175.8,406.5 180.2,404.0 182.0,409.6 184.7,395.5 186.3,397.0 188.6,389.3 190.6,397.0 193.0,409.6 195.3,408.8 200.0,401.0 204.7,402.6 207.8,406.5 211.0,404.6 214.0,407.3 218.8,415.0 221.0,418.2 222.7,416.6 226.6,421.3 229.7,427.3 232.0,415.0 234.0,401.8 237.5,402.6 239.5,399.4 243.0,403.3 248.4,405.4 253.0,412.3 259.4,408.5 263.3,414.0 266.4,414.3 268.8,412.0 272.7,417.4 276.6,422.9 279.0,421.3 281.3,427.9 285.2,429.0 287.5,425.7 291.4,425.2 293.8,408.8 296.0,401.0 299.2,398.7 301.6,401.0 304.0,391.6 307.8,387.7 311.7,399.4 315.6,406.5 321.9,411.6 325.8,408.3 329.0,409.6 332.0,409.6 335.0,421.3 338.3,429.9 340.6,431.0 342.5,428.3 344.5,437.0 346.9,444.8 349.2,440.0 350.8,433.5 354.7,434.0 361.0,425.2 365.6,428.3 371.0,433.0 374.2,427.6 377.3,429.0 380.5,428.3 385.2,433.8 388.3,434.6 389.8,429.9 392.2,432.0 396.0,423.7 400.0,427.6 404.7,422.0 409.4,419.0 412.5,415.0 414.8,419.0 417.2,420.0 421.0,419.0 425.0,415.8 429.0,399.4 431.0,399.4 432.8,394.4 435.2,391.6 439.0,396.6 441.4,390.8 444.5,403.3 447.7,413.2 450.8,413.8 454.0,409.0 455.5,409.6 457.8,414.3 460.2,409.6 461.7,398.7 465.6,391.6 469.5,390.8 474.2,401.0 479.0,390.0 482.8,392.4 486.0,390.8 488.6,383.8 491.0,390.8 493.0,391.6 495.6,396.3 498.8,396.3 500.8,400.2 504.0,411.2 506.6,415.8 509.0,410.4 511.0,414.8 515.6,416.6 520.3,425.7 523.4,423.7 527.7,412.7 530.0,418.5 534.4,418.5 536.0,414.8 539.0,423.7 544.5,428.3 546.4,426.0 548.4,428.3 550.5,436.2 553.0,431.5 557.0,428.3 559.0,431.0 561.0,429.0 563.3,430.7 565.2,429.0 569.5,437.7 571.0,438.5 573.0,435.7 576.9,445.5 579.0,402.6 585.2,398.2 589.0,400.7 592.2,397.9 597.7,396.0 600.0,392.4 604.0,390.4 607.0,391.6 611.7,392.9 614.8,388.5 617.5,387.3 619.8,402.6 623.4,395.5 625.8,396.3 630.0,394.0 632.0,396.3 636.0,404.9 638.3,406.5 643.0,417.4 644.5,417.4 646.4,412.7 650.0,422.0 653.0,422.6 656.6,430.2 659.0,416.6 661.0,408.0 662.5,410.4 664.8,419.8 666.4,416.9 668.8,419.4 671.9,416.3 673.4,417.9 677.3,409.6 679.7,408.0 681.3,409.6 685.2,403.3 687.5,408.5 691.7,390.0 695.3,397.0 697.7,387.0 700.0,394.0 702.0,405.7 707.8,401.8 709.8,394.8 712.5,403.3 715.6,408.8 718.0,410.0 720.6,408.3 725.0,414.3 727.3,414.3 730.5,410.7 733.0,416.3 736.0,414.8 738.8,410.0 741.4,414.3 744.8,408.3 747.7,414.3 749.2,413.5 751.3,421.3 755.5,414.8 758.6,413.8 762.5,417.0 764.8,416.3 767.5,423.2 770.3,416.6 772.7,416.3 775.8,418.2 777.8,416.3 779.7,421.6 782.8,420.0 786.0,425.7 788.0,417.9 790.3,421.8 795.3,421.0 796.9,419.0 798.8,422.6 800.8,421.3 803.0,423.3 807.0,415.8 809.4,419.8 811.0,418.5 813.3,422.6 817.2,415.8 819.5,420.5 823.0,431.8 826.9,424.8 829.0,424.8 831.3,421.6 832.8,422.4 836.0,417.4 837.5,417.0 840.6,413.0 844.5,412.0 847.7,413.2 850.0,410.4 852.3,417.4 854.7,412.7 856.3,413.5 858.0,422.6 860.2,418.2 862.2,401.8 864.0,398.7 866.4,401.8 868.8,408.8 872.7,415.4 874.7,410.4 876.6,411.2 879.0,422.9 881.3,419.0 882.8,419.8 884.8,427.6 887.5,413.5 889.8,409.6 891.4,408.8 895.0,404.0 897.7,406.0 900.8,404.0 903.0,405.7 905.2,403.3 907.0,407.3 910.0,404.9 912.5,400.5 915.4,396.8"/>
<text x="994.5" y="418.9" font-size="9.9" fill="#2a2e39" textLength="15.6" lengthAdjust="spacingAndGlyphs">0.00</text>
<rect x="0" y="465.4" width="988" height="35.8" fill="#efecfb"/>
<polygon fill="#f8c6dc" opacity="0.6" points="576.8,501.2 577.3,502.3 579.2,515.0 581.3,511.2 583.6,509.3 586.0,505.4 588.3,507.4 591.4,508.5 593.8,507.4 596.0,503.0 596.8,501.2"/>
<line x1="0" y1="465.4" x2="985" y2="465.4" stroke="#8c8fa0" stroke-width="0.9" stroke-dasharray="4 3.8"/>
<line x1="0" y1="483.4" x2="985" y2="483.4" stroke="#a9a6c4" stroke-width="0.9" stroke-dasharray="4 3.8"/>
<line x1="0" y1="501.2" x2="985" y2="501.2" stroke="#8c8fa0" stroke-width="0.9" stroke-dasharray="4 3.8"/>
<polyline fill="none" stroke="#f3e0a4" stroke-width="1.2" stroke-linejoin="round" points="0.0,477.3 6.3,481.2 15.6,485.0 31.3,488.5 50.0,487.0 65.0,489.0 80.0,490.0 95.0,489.5 110.0,486.5 120.0,484.0 133.0,483.0 148.0,483.2 156.0,485.0 165.6,482.4 173.4,481.2 181.0,477.3 189.0,471.8 197.0,470.3 212.5,470.3 225.0,472.6 234.4,471.8 243.8,470.0 253.0,471.0 262.5,477.3 270.3,485.0 278.0,490.6 287.5,490.6 293.8,487.4 301.6,481.2 306.3,477.3 312.5,475.7 320.3,476.0 331.3,479.6 342.2,484.3 353.0,491.3 365.6,498.4 375.0,501.5 384.4,499.2 393.8,499.2 406.3,498.4 415.6,495.3 425.0,491.3 434.4,486.7 443.8,483.5 453.0,482.0 457.8,480.4 467.2,475.7 476.6,470.3 484.4,465.9 492.2,465.9 501.6,471.0 512.5,477.3 520.3,480.9 529.7,479.3 537.5,480.4 546.9,483.5 556.3,485.9 565.6,489.8 575.0,491.3 582.8,496.0 590.6,500.7 598.4,503.8 604.7,503.0 610.0,499.2 614.0,492.9 621.9,486.7 631.3,485.9 640.6,487.4 650.0,489.8 659.4,492.9 668.8,494.5 678.0,494.5 684.4,492.9 690.6,487.4 698.4,482.8 706.3,481.2 715.6,481.2 723.4,483.5 731.3,485.9 739.0,487.4 746.9,485.0 754.7,482.0 765.6,479.6 773.4,476.5 781.3,474.6 790.6,474.2 798.4,475.3 804.7,480.4 812.5,485.0 820.3,489.0 828.0,493.7 837.5,494.5 846.9,493.7 856.3,490.6 865.6,492.9 875.0,496.0 884.4,499.2 892.2,501.2 900.0,498.4 910.0,494.5 915.4,492.0"/>
<polyline fill="none" stroke="#846ccb" stroke-width="1.1" stroke-linejoin="round" points="0.0,478.0 1.9,478.0 3.4,488.2 7.0,490.6 10.2,493.7 13.3,495.6 18.8,493.7 22.7,483.5 25.0,484.3 26.9,483.5 28.9,487.0 32.5,483.2 36.7,488.7 41.4,481.5 43.8,483.5 46.9,489.8 50.0,485.9 53.9,493.7 59.4,493.7 64.0,488.2 68.8,492.0 71.9,492.9 75.5,485.4 78.0,489.3 81.3,488.7 85.2,494.0 87.5,494.0 89.8,481.5 92.2,488.7 95.3,490.3 97.7,492.9 100.0,486.7 103.0,486.2 106.6,488.7 110.0,479.3 114.0,480.4 119.5,476.2 121.9,477.8 125.0,485.0 129.0,488.7 132.8,493.4 136.0,488.2 139.0,479.6 141.4,479.3 143.0,481.2 145.3,477.3 147.7,479.6 149.7,478.8 152.3,483.5 154.7,484.3 157.5,487.4 161.0,481.2 163.3,481.2 166.9,477.3 170.0,480.9 173.4,475.0 175.8,473.4 180.5,464.5 182.8,466.3 186.0,464.8 188.3,459.0 190.6,462.4 192.5,477.3 196.0,474.2 200.0,469.8 203.0,471.8 205.0,468.7 207.0,474.2 211.0,468.7 218.0,478.0 222.7,470.7 225.0,470.3 227.3,476.5 230.5,471.8 235.2,464.3 237.5,465.6 239.5,460.6 243.8,471.5 245.6,471.0 249.2,477.3 254.7,487.8 260.2,485.6 264.8,494.5 267.2,495.6 270.6,493.7 273.4,494.0 275.8,489.8 279.0,488.2 282.0,483.5 284.7,486.2 287.2,482.8 289.0,486.7 291.4,488.7 293.4,481.2 295.6,470.0 297.7,469.5 299.7,474.2 304.7,468.0 307.0,469.5 310.2,475.0 312.5,482.8 316.4,483.5 320.3,485.6 323.8,479.3 325.8,482.0 328.0,480.9 331.3,485.0 336.3,481.2 338.6,489.0 342.2,485.9 345.3,489.8 348.8,505.9 351.3,503.4 354.7,504.3 357.0,499.6 360.2,499.2 364.8,499.6 367.5,503.0 371.0,504.6 373.8,495.0 377.3,492.4 380.0,492.4 383.6,499.2 387.8,504.3 389.8,498.4 393.8,504.6 396.4,497.6 400.0,499.6 404.7,488.2 407.8,487.4 410.6,490.6 414.8,489.3 420.3,492.9 425.0,496.0 428.4,482.8 431.3,475.3 433.6,477.3 437.2,482.0 440.6,477.8 443.0,476.8 446.0,482.8 448.4,483.5 451.3,489.0 454.0,479.6 455.8,477.3 457.8,481.2 459.7,477.3 462.2,468.0 465.6,465.6 469.5,463.2 471.9,464.0 474.2,466.8 478.4,460.0 480.5,463.2 482.8,468.7 486.4,472.0 489.0,466.8 492.2,471.0 496.0,478.8 501.3,485.6 505.5,483.5 509.4,469.5 513.3,480.4 515.6,488.2 521.9,483.5 525.8,473.0 528.0,472.6 532.0,477.3 533.6,480.4 535.6,480.0 538.3,489.8 543.8,495.0 548.4,491.3 550.0,492.0 552.3,483.2 554.4,483.2 557.0,489.0 562.5,494.0 567.2,489.0 570.3,489.8 573.0,487.0 575.0,496.8 577.3,502.3 579.2,515.0 581.3,511.2 583.6,509.3 586.0,505.4 588.3,507.4 591.4,508.5 593.8,507.4 596.0,503.0 598.4,497.6 601.6,488.7 604.7,486.7 607.8,483.5 610.0,485.0 613.3,480.9 615.6,480.4 617.5,484.3 619.5,492.0 621.6,493.0 623.4,486.7 625.8,485.6 629.0,486.7 632.0,484.3 636.0,491.8 639.0,492.4 643.8,492.0 646.0,488.7 648.4,495.3 651.6,497.6 654.2,494.0 656.7,502.0 660.2,496.5 664.0,496.0 667.2,492.9 670.3,490.3 672.2,491.8 675.0,490.3 679.0,490.6 681.6,492.0 685.2,479.6 687.5,479.3 689.4,482.8 693.4,475.3 697.7,477.8 700.0,477.3 703.0,483.5 705.5,488.2 707.8,487.4 710.0,473.0 712.2,478.0 714.0,487.0 718.8,489.0 722.7,490.6 725.0,492.9 727.3,492.9 730.5,485.9 732.8,485.9 736.0,482.8 740.6,484.3 743.3,479.6 745.3,480.0 747.2,482.8 750.3,477.3 752.3,477.8 755.5,480.0 758.6,479.3 761.3,476.5 765.3,484.0 769.5,470.3 771.6,468.4 773.8,471.8 777.8,467.0 780.5,471.0 784.0,475.0 786.3,475.0 789.0,480.9 793.8,483.5 796.0,482.0 799.2,490.6 802.3,495.3 806.6,489.3 808.6,494.5 810.6,486.2 812.8,491.3 816.4,488.7 819.5,498.4 823.0,506.5 825.8,498.4 828.0,494.5 831.3,491.3 835.2,492.9 839.8,491.3 843.8,491.3 848.4,490.6 851.6,493.4 854.4,486.2 856.3,488.7 858.0,496.0 860.2,496.8 862.0,487.0 864.0,499.2 868.0,499.6 870.3,505.0 872.7,503.0 875.0,502.8 876.6,498.4 879.0,504.3 881.0,498.4 882.8,499.2 884.8,504.6 886.7,502.3 889.0,496.5 892.2,495.3 895.0,489.3 897.7,490.3 900.8,489.8 903.0,492.9 905.2,492.9 907.5,496.5 910.0,493.7 912.5,489.0 915.4,483.4"/>
<text x="6.9" y="467.9" font-size="9.6" fill="#2a2e39" textLength="11.6" lengthAdjust="spacingAndGlyphs">RSI</text>
<text x="994.8" y="462.9" font-size="9.9" fill="#2a2e39" textLength="20.0" lengthAdjust="spacingAndGlyphs">75.00</text>
<text x="994.8" y="486.0" font-size="9.9" fill="#2a2e39" textLength="20.0" lengthAdjust="spacingAndGlyphs">50.00</text>
<text x="994.8" y="508.7" font-size="9.9" fill="#2a2e39" textLength="20.0" lengthAdjust="spacingAndGlyphs">25.00</text>
<g fill="#111">
<path d="M8.9 501.3h7.8v10.5h-3.9v-5.9h-3.9z"/>
<circle cx="20.5" cy="503.5" r="2.1"/>
<path d="M24.4 501.3h4.6l-3.6 10.5h-4.6z"/>
</g>
</svg>
</body></html>
